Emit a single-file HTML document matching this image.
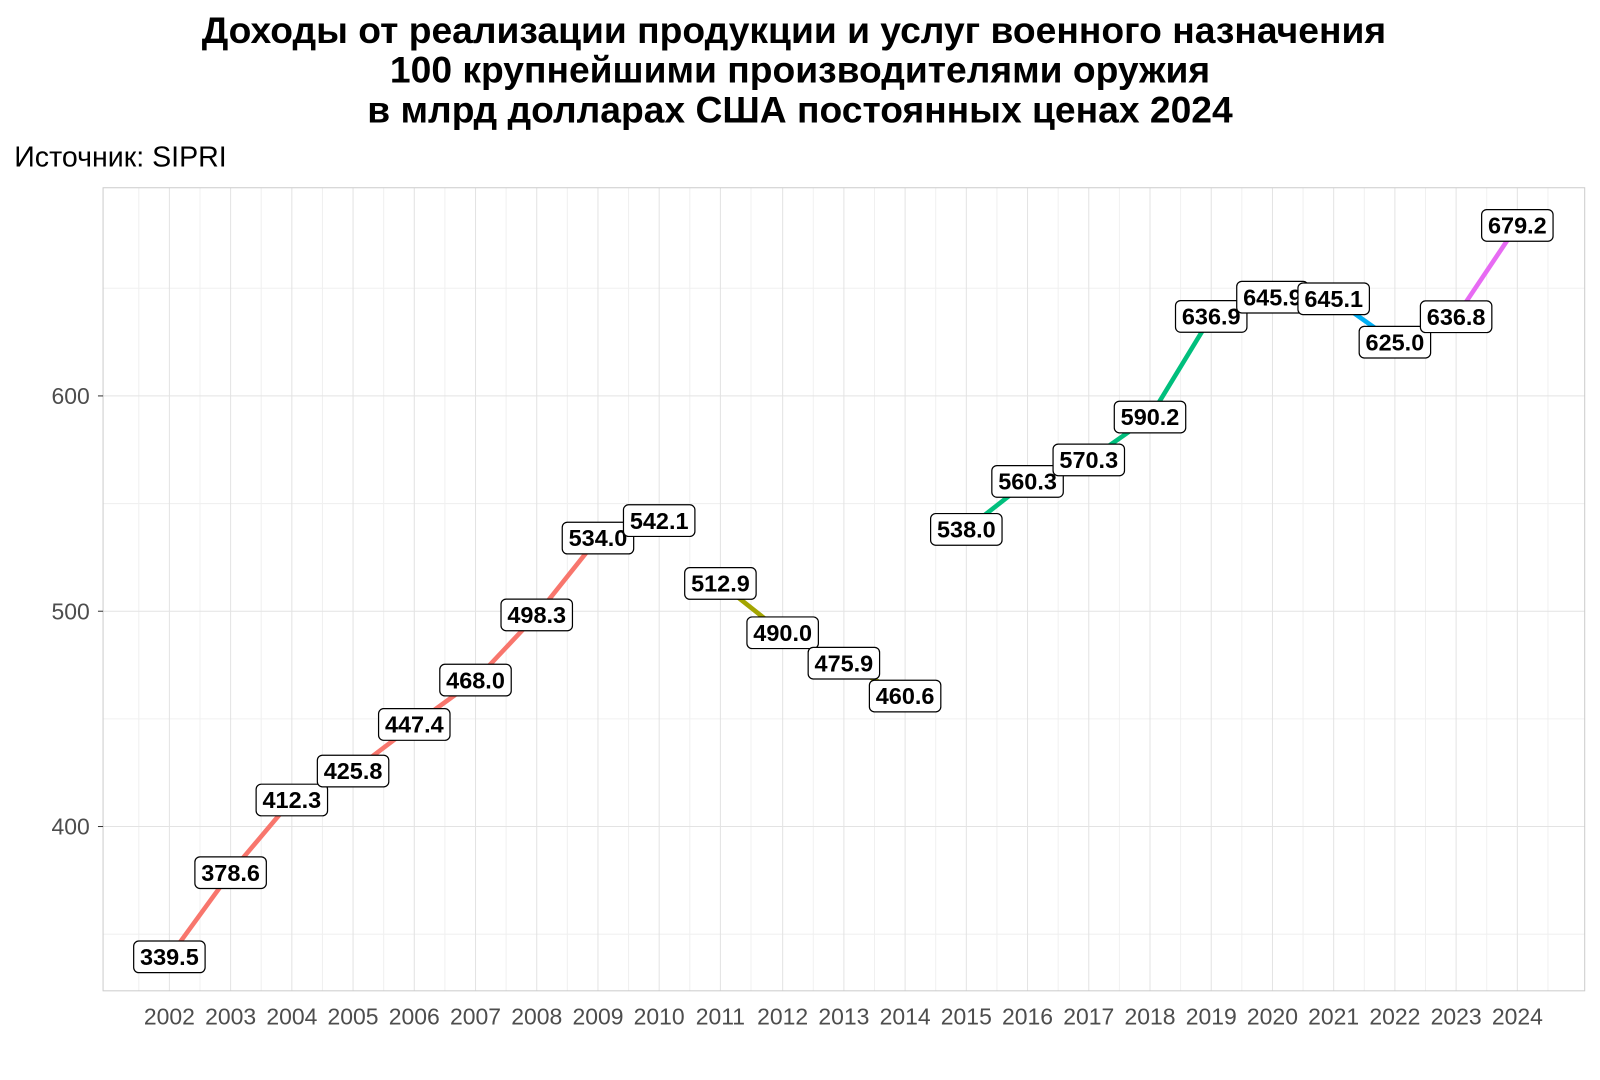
<!DOCTYPE html>
<html><head><meta charset="utf-8"><style>
body{margin:0;background:#fff;}
svg{display:block;font-family:"Liberation Sans",Arial,sans-serif;}
</style></head><body>
<svg width="1600" height="1080" viewBox="0 0 1568 1058.4" preserveAspectRatio="none" xmlns="http://www.w3.org/2000/svg">
<rect x="0" y="0" width="1568" height="1058.4" fill="#fff"/>
<g font-weight="bold" font-size="36.5" text-anchor="middle" fill="#000">
<text x="778" y="42">Доходы от реализации продукции и услуг военного назначения</text>
<text x="784" y="81">100 крупнейшими производителями оружия</text>
<text x="784" y="120">в млрд долларах США постоянных ценах 2024</text>
</g>
<text x="14" y="163" font-size="28" fill="#000">Источник: SIPRI</text>
<rect x="101" y="184" width="1452" height="787" fill="#fff"/>
<g stroke="#f0f0f0" stroke-width="1">
<line x1="101" x2="1553" y1="915.5" y2="915.5"/><line x1="101" x2="1553" y1="704.5" y2="704.5"/><line x1="101" x2="1553" y1="493.5" y2="493.5"/><line x1="101" x2="1553" y1="282.5" y2="282.5"/>
<line x1="136" x2="136" y1="184" y2="971"/><line x1="196" x2="196" y1="184" y2="971"/><line x1="256" x2="256" y1="184" y2="971"/><line x1="316" x2="316" y1="184" y2="971"/><line x1="376" x2="376" y1="184" y2="971"/><line x1="436" x2="436" y1="184" y2="971"/><line x1="496" x2="496" y1="184" y2="971"/><line x1="556" x2="556" y1="184" y2="971"/><line x1="616" x2="616" y1="184" y2="971"/><line x1="676" x2="676" y1="184" y2="971"/><line x1="736" x2="736" y1="184" y2="971"/><line x1="797" x2="797" y1="184" y2="971"/><line x1="857" x2="857" y1="184" y2="971"/><line x1="917" x2="917" y1="184" y2="971"/><line x1="977" x2="977" y1="184" y2="971"/><line x1="1037" x2="1037" y1="184" y2="971"/><line x1="1097" x2="1097" y1="184" y2="971"/><line x1="1157" x2="1157" y1="184" y2="971"/><line x1="1217" x2="1217" y1="184" y2="971"/><line x1="1277" x2="1277" y1="184" y2="971"/><line x1="1337" x2="1337" y1="184" y2="971"/><line x1="1397" x2="1397" y1="184" y2="971"/><line x1="1457" x2="1457" y1="184" y2="971"/><line x1="1517" x2="1517" y1="184" y2="971"/>
</g>
<g stroke="#e3e3e3" stroke-width="1">
<line x1="101" x2="1553" y1="810" y2="810"/><line x1="101" x2="1553" y1="599" y2="599"/><line x1="101" x2="1553" y1="388" y2="388"/>
<line x1="166" x2="166" y1="184" y2="971"/><line x1="226" x2="226" y1="184" y2="971"/><line x1="286" x2="286" y1="184" y2="971"/><line x1="346" x2="346" y1="184" y2="971"/><line x1="406" x2="406" y1="184" y2="971"/><line x1="466" x2="466" y1="184" y2="971"/><line x1="526" x2="526" y1="184" y2="971"/><line x1="586" x2="586" y1="184" y2="971"/><line x1="646" x2="646" y1="184" y2="971"/><line x1="706" x2="706" y1="184" y2="971"/><line x1="767" x2="767" y1="184" y2="971"/><line x1="827" x2="827" y1="184" y2="971"/><line x1="887" x2="887" y1="184" y2="971"/><line x1="947" x2="947" y1="184" y2="971"/><line x1="1007" x2="1007" y1="184" y2="971"/><line x1="1067" x2="1067" y1="184" y2="971"/><line x1="1127" x2="1127" y1="184" y2="971"/><line x1="1187" x2="1187" y1="184" y2="971"/><line x1="1247" x2="1247" y1="184" y2="971"/><line x1="1307" x2="1307" y1="184" y2="971"/><line x1="1367" x2="1367" y1="184" y2="971"/><line x1="1427" x2="1427" y1="184" y2="971"/><line x1="1487" x2="1487" y1="184" y2="971"/>
</g>
<rect x="101" y="184" width="1452" height="787" fill="none" stroke="#cccccc" stroke-width="1"/>
<g stroke="#333" stroke-width="1">
<line x1="96" x2="101" y1="810" y2="810"/><line x1="96" x2="101" y1="599" y2="599"/><line x1="96" x2="101" y1="388" y2="388"/>
</g>
<g font-size="22.5" fill="#4d4d4d" text-anchor="end">
<text x="88" y="818">400</text><text x="88" y="607">500</text><text x="88" y="396">600</text>
</g>
<g font-size="22.5" fill="#4d4d4d" text-anchor="middle">
<text x="166" y="1004">2002</text><text x="226" y="1004">2003</text><text x="286" y="1004">2004</text><text x="346" y="1004">2005</text><text x="406" y="1004">2006</text><text x="466" y="1004">2007</text><text x="526" y="1004">2008</text><text x="586" y="1004">2009</text><text x="646" y="1004">2010</text><text x="706" y="1004">2011</text><text x="767" y="1004">2012</text><text x="827" y="1004">2013</text><text x="887" y="1004">2014</text><text x="947" y="1004">2015</text><text x="1007" y="1004">2016</text><text x="1067" y="1004">2017</text><text x="1127" y="1004">2018</text><text x="1187" y="1004">2019</text><text x="1247" y="1004">2020</text><text x="1307" y="1004">2021</text><text x="1367" y="1004">2022</text><text x="1427" y="1004">2023</text><text x="1487" y="1004">2024</text>
</g>
<g fill="none" stroke-width="4.5" stroke-linejoin="round">
<polyline stroke="#F8766D" points="166,937.7 226,855.2 286,784 346,755.6 406,710 466,666.5 526,602.6 586,527.3 646,510.2"/>
<polyline stroke="#A3A500" points="706,571.8 767,620.1 827,649.9 887,682.1"/>
<polyline stroke="#00BF7D" points="947,518.8 1007,471.8 1067,450.7 1127,408.7 1187,310.1 1247,291.2"/>
<polyline stroke="#00B0F6" points="1307,292.8 1367,335.3"/>
<polyline stroke="#E76BF3" points="1427,310.4 1487,220.9"/>
</g>
<g font-size="23" font-weight="bold" text-anchor="middle" fill="#000">
<g transform="translate(166,937.7)"><rect x="-35" y="-15.5" width="70" height="31" rx="5" fill="#fff" stroke="#000" stroke-width="1.2"/><text y="8">339.5</text></g>
<g transform="translate(226,855.2)"><rect x="-35" y="-15.5" width="70" height="31" rx="5" fill="#fff" stroke="#000" stroke-width="1.2"/><text y="8">378.6</text></g>
<g transform="translate(286,784)"><rect x="-35" y="-15.5" width="70" height="31" rx="5" fill="#fff" stroke="#000" stroke-width="1.2"/><text y="8">412.3</text></g>
<g transform="translate(346,755.6)"><rect x="-35" y="-15.5" width="70" height="31" rx="5" fill="#fff" stroke="#000" stroke-width="1.2"/><text y="8">425.8</text></g>
<g transform="translate(406,710)"><rect x="-35" y="-15.5" width="70" height="31" rx="5" fill="#fff" stroke="#000" stroke-width="1.2"/><text y="8">447.4</text></g>
<g transform="translate(466,666.5)"><rect x="-35" y="-15.5" width="70" height="31" rx="5" fill="#fff" stroke="#000" stroke-width="1.2"/><text y="8">468.0</text></g>
<g transform="translate(526,602.6)"><rect x="-35" y="-15.5" width="70" height="31" rx="5" fill="#fff" stroke="#000" stroke-width="1.2"/><text y="8">498.3</text></g>
<g transform="translate(586,527.3)"><rect x="-35" y="-15.5" width="70" height="31" rx="5" fill="#fff" stroke="#000" stroke-width="1.2"/><text y="8">534.0</text></g>
<g transform="translate(646,510.2)"><rect x="-35" y="-15.5" width="70" height="31" rx="5" fill="#fff" stroke="#000" stroke-width="1.2"/><text y="8">542.1</text></g>
<g transform="translate(706,571.8)"><rect x="-35" y="-15.5" width="70" height="31" rx="5" fill="#fff" stroke="#000" stroke-width="1.2"/><text y="8">512.9</text></g>
<g transform="translate(767,620.1)"><rect x="-35" y="-15.5" width="70" height="31" rx="5" fill="#fff" stroke="#000" stroke-width="1.2"/><text y="8">490.0</text></g>
<g transform="translate(827,649.9)"><rect x="-35" y="-15.5" width="70" height="31" rx="5" fill="#fff" stroke="#000" stroke-width="1.2"/><text y="8">475.9</text></g>
<g transform="translate(887,682.1)"><rect x="-35" y="-15.5" width="70" height="31" rx="5" fill="#fff" stroke="#000" stroke-width="1.2"/><text y="8">460.6</text></g>
<g transform="translate(947,518.8)"><rect x="-35" y="-15.5" width="70" height="31" rx="5" fill="#fff" stroke="#000" stroke-width="1.2"/><text y="8">538.0</text></g>
<g transform="translate(1007,471.8)"><rect x="-35" y="-15.5" width="70" height="31" rx="5" fill="#fff" stroke="#000" stroke-width="1.2"/><text y="8">560.3</text></g>
<g transform="translate(1067,450.7)"><rect x="-35" y="-15.5" width="70" height="31" rx="5" fill="#fff" stroke="#000" stroke-width="1.2"/><text y="8">570.3</text></g>
<g transform="translate(1127,408.7)"><rect x="-35" y="-15.5" width="70" height="31" rx="5" fill="#fff" stroke="#000" stroke-width="1.2"/><text y="8">590.2</text></g>
<g transform="translate(1187,310.1)"><rect x="-35" y="-15.5" width="70" height="31" rx="5" fill="#fff" stroke="#000" stroke-width="1.2"/><text y="8">636.9</text></g>
<g transform="translate(1247,291.2)"><rect x="-35" y="-15.5" width="70" height="31" rx="5" fill="#fff" stroke="#000" stroke-width="1.2"/><text y="8">645.9</text></g>
<g transform="translate(1307,292.8)"><rect x="-35" y="-15.5" width="70" height="31" rx="5" fill="#fff" stroke="#000" stroke-width="1.2"/><text y="8">645.1</text></g>
<g transform="translate(1367,335.3)"><rect x="-35" y="-15.5" width="70" height="31" rx="5" fill="#fff" stroke="#000" stroke-width="1.2"/><text y="8">625.0</text></g>
<g transform="translate(1427,310.4)"><rect x="-35" y="-15.5" width="70" height="31" rx="5" fill="#fff" stroke="#000" stroke-width="1.2"/><text y="8">636.8</text></g>
<g transform="translate(1487,220.9)"><rect x="-35" y="-15.5" width="70" height="31" rx="5" fill="#fff" stroke="#000" stroke-width="1.2"/><text y="8">679.2</text></g>
</g>
</svg>
</body></html>
